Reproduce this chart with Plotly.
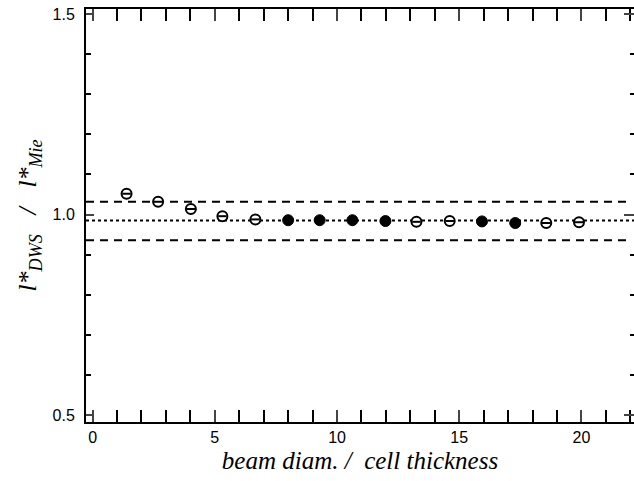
import plotly.graph_objects as go

# data
x_open = [1.39, 2.68, 4.02, 5.31, 6.66, 13.25, 14.61, 18.56, 19.9]
y_open = [1.052, 1.032, 1.014, 0.996, 0.988, 0.982, 0.984, 0.979, 0.981]
x_filled = [8.0, 9.29, 10.63, 11.98, 15.93, 17.29]
y_filled = [0.986, 0.986, 0.986, 0.984, 0.983, 0.979]
mean_level = 0.985
band_upper = 1.032
band_lower = 0.936
x_span = [-0.27, 22.15]
y_span = [0.483, 1.5125]

y_major = [0.5, 1.0, 1.5]
y_major_labels = ["0.5", "1.0", "1.5"]
x_major = [0, 5, 10, 15, 20]

fig = go.Figure()

fig.add_trace(go.Scatter(x=x_span, y=[mean_level, mean_level], mode="lines",
                         line=dict(color="black", width=2, dash="dot"), showlegend=False))
fig.add_trace(go.Scatter(x=[x_span[0], 21.9], y=[band_upper, band_upper], mode="lines",
                         line=dict(color="black", width=2, dash="8px,6px"), showlegend=False))
fig.add_trace(go.Scatter(x=[x_span[0], 21.9], y=[band_lower, band_lower], mode="lines",
                         line=dict(color="black", width=2, dash="8px,6px"), showlegend=False))

fig.add_trace(go.Scatter(x=x_open, y=y_open, mode="markers",
                         marker=dict(symbol="circle", size=10, color="white",
                                     line=dict(color="black", width=2)),
                         showlegend=False))
fig.add_trace(go.Scatter(x=x_open, y=y_open, mode="markers",
                         marker=dict(symbol="line-ew", size=6,
                                     line=dict(color="black", width=2)),
                         showlegend=False))
fig.add_trace(go.Scatter(x=x_filled, y=y_filled, mode="markers",
                         marker=dict(symbol="circle", size=11, color="black",
                                     line=dict(color="black", width=1)),
                         showlegend=False))
# invisible trace to activate the right-hand tick axis
fig.add_trace(go.Scatter(x=[x_span[0]], y=[1.0], yaxis="y2", mode="markers",
                         marker=dict(opacity=0), showlegend=False, hoverinfo="skip"))

fig.update_layout(
    width=634, height=481,
    margin=dict(l=86, r=0, t=9, b=59, autoexpand=False),
    paper_bgcolor="white", plot_bgcolor="white",
    font=dict(family="Liberation Sans, Arial", color="black", size=16),
    xaxis=dict(range=x_span, tickvals=x_major, ticks="inside", ticklen=12, tickwidth=2,
               showline=True, linewidth=2, linecolor="black", mirror="allticks",
               showgrid=False, zeroline=False, automargin=False,
               minor=dict(dtick=1, tick0=0, ticks="inside", ticklen=6, tickwidth=2,
                          tickcolor="black", showgrid=False),
               tickfont=dict(family="Liberation Sans, Arial", size=16),
               title=dict(text="beam diam. /  cell thickness", standoff=6,
                          font=dict(family="Liberation Serif, Times New Roman", size=25, style="italic"))),
    yaxis=dict(range=y_span, tickvals=y_major, ticktext=y_major_labels,
               ticks="inside", ticklen=8, tickwidth=2,
               showline=True, linewidth=2, linecolor="black", mirror=False,
               showgrid=False, zeroline=False, automargin=False,
               minor=dict(dtick=0.1, tick0=0.5, ticks="inside", ticklen=5, tickwidth=2,
                          tickcolor="black", showgrid=False),
               tickfont=dict(family="Liberation Sans, Arial", size=16),
               ticklabelstandoff=6, ticklabeloverflow="allow",
               title=dict(text="l*<sub>DWS</sub>&nbsp;&nbsp;&nbsp;/&nbsp;&nbsp;&nbsp;l*<sub>Mie</sub>", standoff=8,
                          font=dict(family="Liberation Serif, Times New Roman", size=26, style="italic"))),
    yaxis2=dict(range=y_span, overlaying="y", side="right", tickvals=y_major,
                showticklabels=False, ticks="inside", ticklen=10, tickwidth=2,
                showline=False, showgrid=False, zeroline=False, automargin=False,
                minor=dict(dtick=0.1, tick0=0.5, ticks="inside", ticklen=4, tickwidth=2,
                           tickcolor="black", showgrid=False)),
)

fig.write_html("out.html", config={"displayModeBar": False},
               post_script="document.body.style.margin='0';document.body.style.overflow='hidden';")
